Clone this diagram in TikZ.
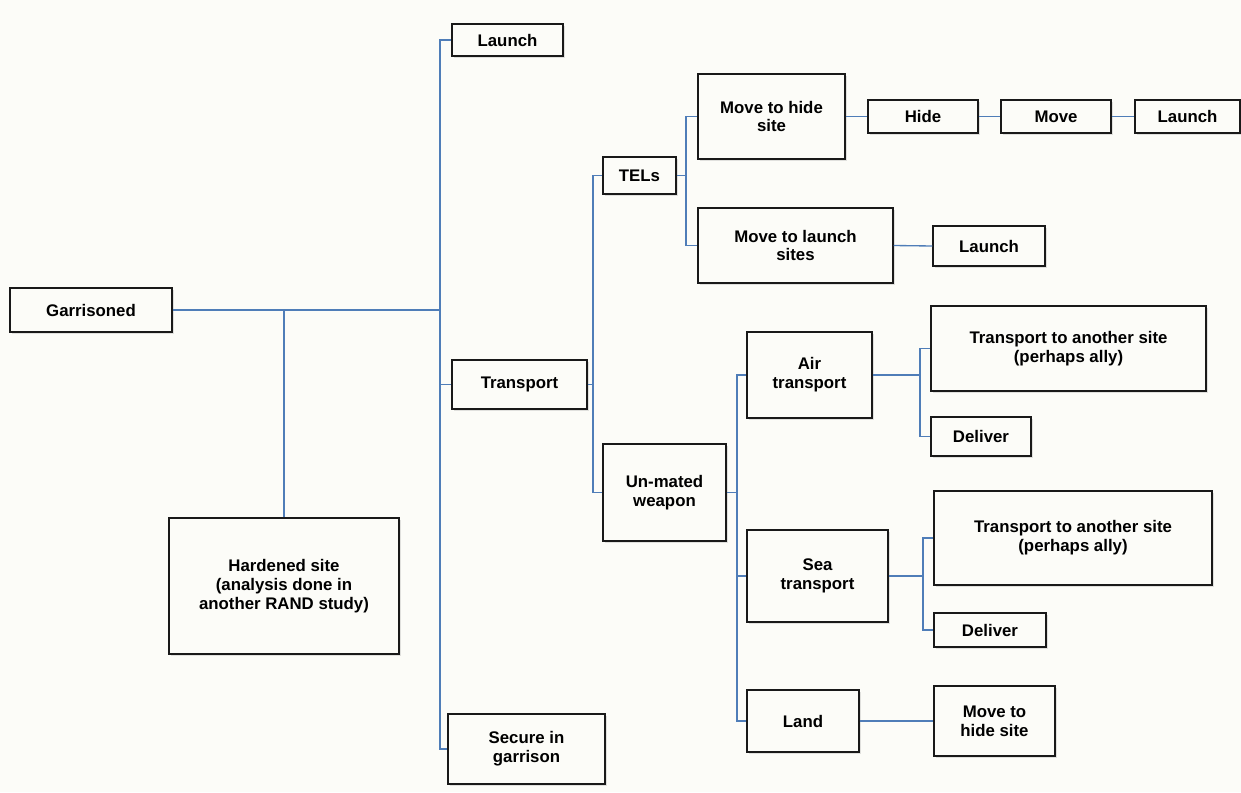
\documentclass[tikz,border=0pt]{standalone}
\usepackage{fontspec}
\setmainfont{Liberation Sans}
\usetikzlibrary{shadows}

\definecolor{bgcream}{RGB}{252,252,248}
\definecolor{linkblue}{RGB}{79,125,184}

\tikzset{
  box/.style 2 args={draw=black!90, line width=1.1pt, fill=bgcream,
    minimum width=#1*0.75pt, minimum height=#2*0.75pt, inner sep=0pt,
    align=center, font=\fontsize{12.6}{14.2}\selectfont\bfseries,
    drop shadow={opacity=0.22, shadow xshift=1.2pt, shadow yshift=-1.5pt}},
  link/.style={draw=linkblue, line width=1pt}
}

\begin{document}
\begin{tikzpicture}[x=0.75pt,y=-0.75pt]

% fond
\fill[bgcream] (0,0) rectangle (1241,792);
\useasboundingbox (0,0) rectangle (1241,792);

% niveau 1
\node[box={162}{44}] (garr) at (91,310) {Garrisoned};
\node[box={230}{136}] (hard) at (284,586) {Hardened site\\(analysis done in\\another RAND study)};

% niveau 2
\node[box={111}{32}] (launchA) at (507.5,40) {Launch};
\node[box={135}{49}] (trans) at (519.5,384.5) {Transport};
\node[box={157}{70}] (secure) at (526.5,749) {Secure in\\garrison};

% niveau 3
\node[box={73}{37}] (tels) at (639.5,175.5) {TELs};
\node[box={123}{97}] (unmated) at (664.5,492.5) {Un-mated\\weapon};

% TELs
\node[box={147}{85}] (hidesite) at (771.5,116.5) {Move to hide\\site};
\node[box={195}{75}] (launchsites) at (795.5,245.5) {Move to launch\\sites};
\node[box={110}{33}] (hide) at (923,116.5) {Hide};
\node[box={110}{33}] (move) at (1056,116.5) {Move};
\node[box={105}{33}] (launchB) at (1187.5,116.5) {Launch};
\node[box={112}{40}] (launchC) at (989,246) {Launch};

% arme non montee
\node[box={125}{86}] (air) at (809.5,375) {Air\\transport};
\node[box={275}{85}] (airtr) at (1068.5,348.5) {Transport to another site\\(perhaps ally)};
\node[box={100}{39}] (airdel) at (981,436.5) {Deliver};
\node[box={141}{92}] (sea) at (817.5,576) {Sea\\transport};
\node[box={278}{94}] (seatr) at (1073,538) {Transport to another site\\(perhaps ally)};
\node[box={112}{34}] (seadel) at (990,630) {Deliver};
\node[box={112}{62}] (land) at (803,721) {Land};
\node[box={121}{70}] (landhide) at (994.5,721) {Move to\\hide site};

% liaisons
\coordinate (j1) at (440,310);
\coordinate (j2) at (593,384.5);
\coordinate (j3) at (686,175.5);
\coordinate (j4) at (737,492.5);
\coordinate (j5) at (920,375);
\coordinate (j6) at (923,576);

\draw[link] (garr.east) -- (j1);
\draw[link] (hard.north) -- (hard.north |- garr.east);
\draw[link] (j1) |- (launchA.west);
\draw[link] (j1) |- (trans.west);
\draw[link] (j1) |- (secure.west);

\draw[link] (trans.east) -- (j2);
\draw[link] (j2) |- (tels.west);
\draw[link] (j2) |- (unmated.west);

\draw[link] (tels.east) -- (j3);
\draw[link] (j3) |- (hidesite.west);
\draw[link] (j3) |- (launchsites.west);
\draw[link] (hidesite.east) -- (hide.west);
\draw[link] (hide.east) -- (move.west);
\draw[link] (move.east) -- (launchB.west);
\draw[link] (launchsites.east) -- (launchC.west);

\draw[link] (unmated.east) -- (j4);
\draw[link] (j4) |- (air.west);
\draw[link] (j4) |- (sea.west);
\draw[link] (j4) |- (land.west);

\draw[link] (air.east) -- (j5);
\draw[link] (j5) |- (airtr.west);
\draw[link] (j5) |- (airdel.west);
\draw[link] (sea.east) -- (j6);
\draw[link] (j6) |- (seatr.west);
\draw[link] (j6) |- (seadel.west);
\draw[link] (land.east) -- (landhide.west);

\end{tikzpicture}
\end{document}
